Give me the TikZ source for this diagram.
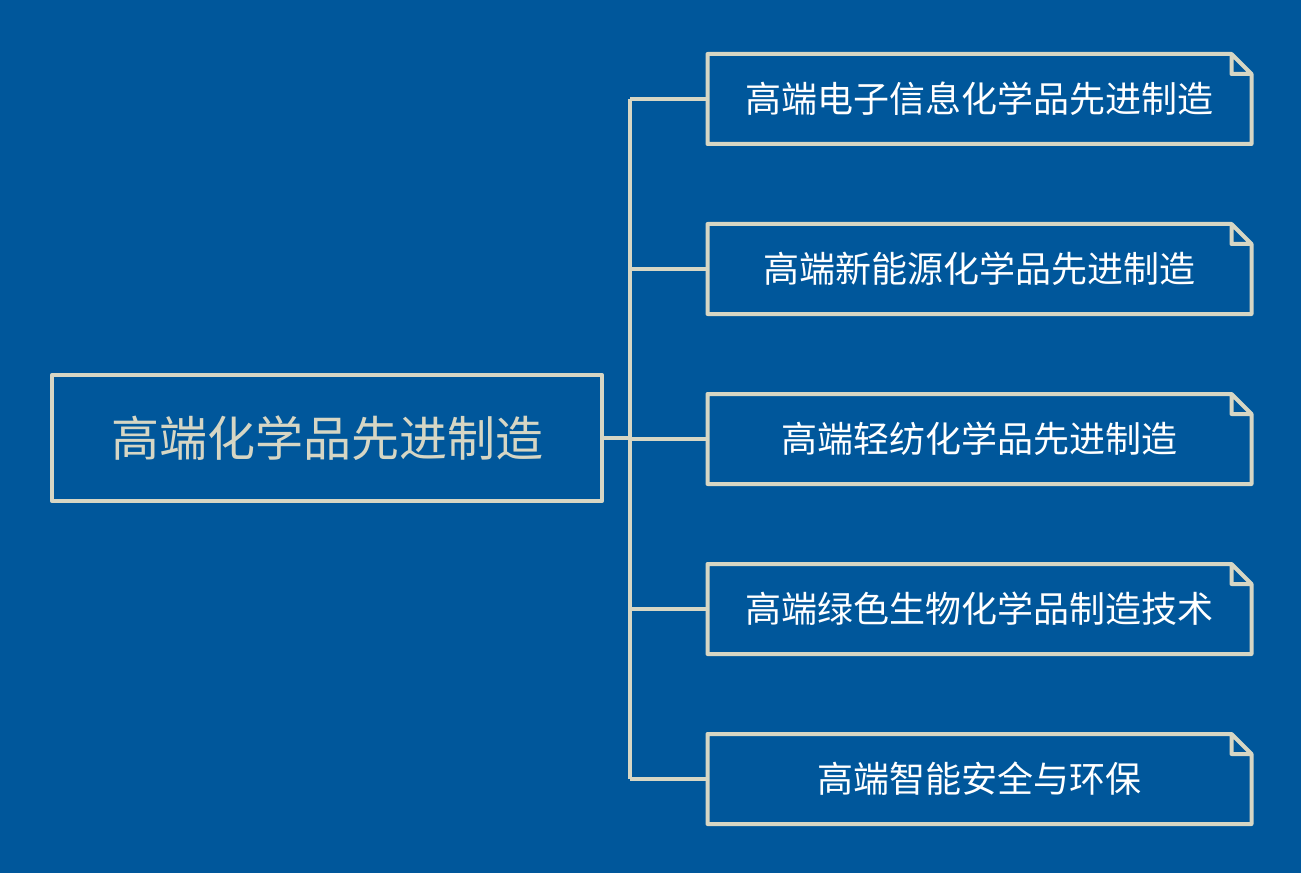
\documentclass[tikz,border=0pt]{standalone}
\usepackage{fontspec}
\setmainfont{Noto Sans CJK SC}
\usetikzlibrary{positioning}
\definecolor{bgblue}{RGB}{0,87,155}
\definecolor{chalk}{RGB}{214,214,196}

\begin{document}
\begin{tikzpicture}[x=0.75pt, y=-0.75pt, line width=3pt, line join=round]
        \tikzset{
           root/.style={
                        rectangle,
                        draw=chalk,
                        line width=3pt,
                        fill=none,
                        text=chalk,
                        inner sep=0pt,
                        outer sep=0pt,
                        minimum width=413pt,
                        minimum height=94pt,
                        font=\fontsize{36}{40}\selectfont
                       },
           topic/.style={
                        rectangle,
                        fill=none,
                        text=white,
                        inner sep=0pt,
                        outer sep=0pt,
                        minimum width=408pt,
                        minimum height=67.5pt,
                        font=\fontsize{27}{32}\selectfont
                       },
           chalkline/.style={
                        draw=chalk,
                        line width=3pt
                       },
                 };
    %--------------------
        \fill[bgblue] (0,0) rectangle (1301,873);
        \useasboundingbox (0,0) rectangle (1301,873);
    %--------------------
        \node[root]  (root)                        at (327,438)   {高端化学品先进制造};

        \node[topic] (topicA)                      at (979.5,99)  {高端电子信息化学品先进制造};
        \node[topic] (topicB) [below=60pt of topicA]              {高端新能源化学品先进制造};
        \node[topic] (topicC) [below=60pt of topicB]              {高端轻纺化学品先进制造};
        \node[topic] (topicD) [below=60pt of topicC]              {高端绿色生物化学品制造技术};
        \node[topic] (topicE) [below=60pt of topicD]              {高端智能安全与环保};

        \coordinate  (hub)                         at (630,438);
    %--------------------
        \foreach \t in {topicA,topicB,topicC,topicD,topicE}
          \draw[chalkline] (\t.north west) -- ([xshift=-15pt]\t.north east)
                           -- ([yshift=-15pt]\t.north east) -- (\t.south east)
                           -- (\t.south west) -- cycle
                           ([xshift=-15pt]\t.north east) -- ([xshift=-15pt,yshift=-15pt]\t.north east)
                           -- ([yshift=-15pt]\t.north east);
    %--------------------
        \draw[chalkline] (root.east) -- (hub);
        \draw[chalkline] (hub |- topicA.west) -- (hub |- topicE.west);
        \foreach \t in {topicA,topicB,topicC,topicD,topicE}
          \draw[chalkline] (hub |- \t.west) -- (\t.west);
\end{tikzpicture}
\end{document}
